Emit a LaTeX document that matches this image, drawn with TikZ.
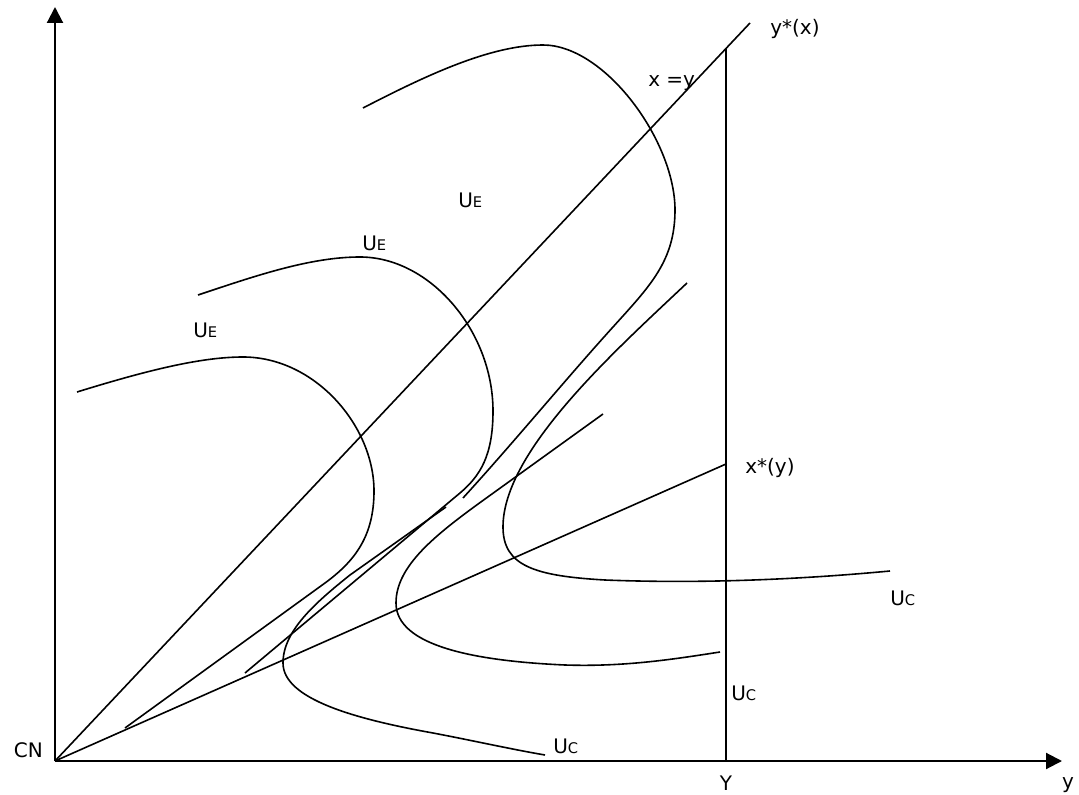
\documentclass[tikz,border=0pt]{standalone}
\usepackage{fontspec}
\setmainfont{DejaVu Sans}
\usetikzlibrary{arrows.meta}

\newcommand{\Ulab}[1]{U{\fontsize{11}{13}\selectfont #1}}

\tikzset{
  axis/.style={line width=1.6pt, -{Triangle[length=12pt,width=12pt]}},
  ray/.style={line width=1.2pt},
  curve/.style={line width=1.2pt},
  lab/.style={inner sep=0pt, font=\fontsize{15}{18}\selectfont}
}

\begin{document}
\begin{tikzpicture}[x=75pt, y=75pt]
  \useasboundingbox (-0.55,-0.33) rectangle (10.24,7.61);

  % axes
  \coordinate (O) at (0,0);
  \coordinate (ytip) at (0,7.54);
  \coordinate (xtip) at (10.07,0);
  \draw[axis] (O) -- (ytip);
  \draw[axis] (O) -- (xtip);

  % rays and the endowment line
  \coordinate (yx) at (6.95,7.38);
  \coordinate (xy) at (6.71,2.97);
  \coordinate (Ytop) at (6.71,7.12);
  \coordinate (Ybot) at (6.71,0);
  \draw[ray] (O) -- (yx);
  \draw[ray] (O) -- (xy);
  \draw[ray] (Ybot) -- (Ytop);

  % indifference curves of E
  \draw[curve] (0.22,3.69) .. controls (0.90,3.90) and (1.45,4.04) .. (1.88,4.04)
    .. controls (2.60,4.04) and (3.19,3.35) .. (3.19,2.70)
    .. controls (3.19,2.25) and (3.00,2.00) .. (2.70,1.78) -- (0.70,0.33);
  \draw[curve] (1.43,4.66) .. controls (2.00,4.85) and (2.55,5.04) .. (3.05,5.04)
    .. controls (3.75,5.04) and (4.38,4.30) .. (4.38,3.50)
    .. controls (4.38,3.05) and (4.25,2.85) .. (4.05,2.68) -- (1.90,0.88);
  \draw[curve] (3.08,6.53) .. controls (3.70,6.85) and (4.35,7.16) .. (4.88,7.16)
    .. controls (5.50,7.16) and (6.20,6.20) .. (6.20,5.51)
    .. controls (6.20,5.00) and (5.95,4.75) .. (5.58,4.34)
    .. controls (5.10,3.81) and (4.60,3.20) .. (4.08,2.63);

  % indifference curves of C
  \draw[curve] (3.91,2.54) -- (2.95,1.86)
    .. controls (2.60,1.58) and (2.28,1.30) .. (2.28,0.98)
    .. controls (2.28,0.62) and (3.00,0.42) .. (3.78,0.28)
    .. controls (4.20,0.20) and (4.55,0.12) .. (4.90,0.06);
  \draw[curve] (5.48,3.47) -- (4.30,2.62)
    .. controls (3.80,2.26) and (3.41,1.95) .. (3.41,1.58)
    .. controls (3.41,1.15) and (4.20,1.00) .. (5.10,0.96)
    .. controls (5.70,0.94) and (6.20,1.02) .. (6.65,1.09);
  \draw[curve] (6.32,4.78) .. controls (5.60,4.10) and (4.48,3.10) .. (4.48,2.34)
    .. controls (4.48,1.95) and (4.80,1.85) .. (5.50,1.81)
    .. controls (6.50,1.77) and (7.50,1.82) .. (8.35,1.90);

  % labels
  \node[lab, anchor=base east] (cn) at (-0.12,0.04) {CN};
  \node[lab, anchor=base] (Ylab) at (6.71,-0.29) {Y};
  \node[lab, anchor=base] (ylab) at (10.13,-0.27) {y};
  \node[lab, anchor=west] (yxlab) at (7.15,7.32) {y*(x)};
  \node[lab, anchor=base west] (diag) at (5.93,6.74) {x =y};
  \node[lab, anchor=base west] (xylab) at (6.90,2.88) {x*(y)};
  \node[lab, anchor=base west] (ue3) at (4.03,5.53) {\Ulab{E}};
  \node[lab, anchor=base west] (ue2) at (3.07,5.10) {\Ulab{E}};
  \node[lab, anchor=base west] (ue1) at (1.38,4.24) {\Ulab{E}};
  \node[lab, anchor=base west] (uc3) at (8.35,1.56) {\Ulab{C}};
  \node[lab, anchor=base west] (uc2) at (6.76,0.61) {\Ulab{C}};
  \node[lab, anchor=base west] (uc1) at (4.98,0.08) {\Ulab{C}};
\end{tikzpicture}
\end{document}
